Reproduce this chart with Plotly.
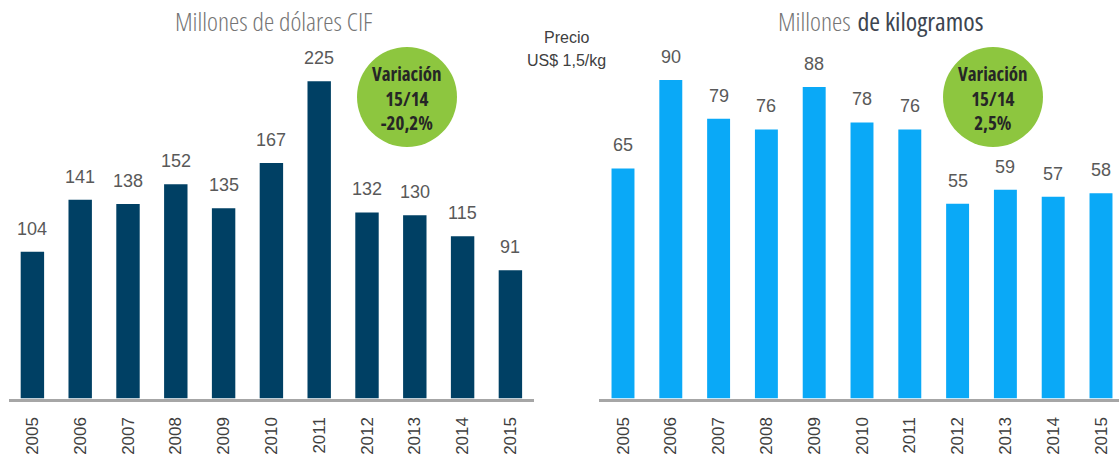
import plotly.graph_objects as go

W, H = 1119, 461

years = ['2005', '2006', '2007', '2008', '2009', '2010', '2011', '2012', '2013', '2014', '2015']
usd_cif = [104, 141, 138, 152, 135, 167, 225, 132, 130, 115, 91]
kg_mill = [65, 90, 79, 76, 88, 78, 76, 55, 59, 57, 58]

title_left = 'Millones de dólares CIF'
title_right_light = 'Millones'
title_right_bold = 'de kilogramos'
price_lines = ['Precio', 'US$ 1,5/kg']
var_left = ['Variación', '15/14', '-20,2%']
var_right = ['Variación', '15/14', '2,5%']

NAVY = '#004064'
BLUE = '#0AA9F7'
GREEN = '#8DC63F'
LABEL = '#595959'
COND = 'Open Sans, Liberation Sans, sans-serif'
SANS = 'Liberation Sans, Arial, sans-serif'


def px(x):
    return x / W


def py(y):
    return 1 - y / H


def cond(t, extra=''):
    return f"<span style='font-stretch:condensed;{extra}'>{t}</span>"


axis_y = 398.5
plot_top = 30.0
plot_h = axis_y - plot_top
left_scale = 1.41   # px per unit
right_scale = 3.54
step = 47.8

fig = go.Figure()
fig.add_trace(go.Bar(x=years, y=usd_cif, marker=dict(color=NAVY, line=dict(width=0)),
                     width=0.49, xaxis='x', yaxis='y', hoverinfo='skip'))
fig.add_trace(go.Bar(x=years, y=kg_mill, marker=dict(color=BLUE, line=dict(width=0)),
                     width=0.48, xaxis='x2', yaxis='y2', hoverinfo='skip'))

annotations = []
for i, v in enumerate(usd_cif):
    annotations.append(dict(x=i, y=v, xref='x', yref='y', text=str(v), showarrow=False,
                            yshift=23, yanchor='middle', xanchor='center',
                            font=dict(family=SANS, size=18, color=LABEL)))
for i, v in enumerate(kg_mill):
    annotations.append(dict(x=i, y=v, xref='x2', yref='y2', text=str(v), showarrow=False,
                            yshift=23, yanchor='middle', xanchor='center',
                            font=dict(family=SANS, size=18, color=LABEL)))

annotations.append(dict(x=px(274), y=py(21), xref='paper', yref='paper',
                        text=cond(title_left),
                        showarrow=False, xanchor='center', yanchor='middle',
                        font=dict(family=COND, size=26, color='#757575', weight=300)))
annotations.append(dict(x=px(880), y=py(21), xref='paper', yref='paper',
                        text=cond(title_right_light, 'color:#757575') + ' '
                             + cond(title_right_bold, 'color:#3d4550;font-weight:500'),
                        showarrow=False, xanchor='center', yanchor='middle',
                        font=dict(family=COND, size=26, color='#404040', weight=300)))
annotations.append(dict(x=px(566), y=py(37), xref='paper', yref='paper', text=price_lines[0],
                        showarrow=False, xanchor='center', yanchor='middle',
                        font=dict(family=SANS, size=16, color='#404040')))
annotations.append(dict(x=px(566), y=py(60), xref='paper', yref='paper', text=price_lines[1],
                        showarrow=False, xanchor='center', yanchor='middle',
                        font=dict(family=SANS, size=16, color='#404040')))

shapes = []
for cx, lines in ((407, var_left), (993, var_right)):
    cy, r = 97, 50
    shapes.append(dict(type='circle', xref='paper', yref='paper',
                       x0=px(cx - r), x1=px(cx + r), y0=py(cy + r), y1=py(cy - r),
                       fillcolor=GREEN, line=dict(width=0), layer='below'))
    annotations.append(dict(x=px(cx), y=py(98), xref='paper', yref='paper',
                            text='<br>'.join(cond(t) for t in lines),
                            showarrow=False, xanchor='center', yanchor='middle', align='center',
                            font=dict(family=COND, size=19, color='#262626', weight=700)))

left_x0 = 32.4 - step / 2
left_x1 = left_x0 + step * 11
right_x0 = 623.0 - step / 2
right_max = -0.5 + (W - right_x0) / step

xcommon = dict(showgrid=False, zeroline=False, showline=True, linecolor='#A6A6A6', linewidth=2.5,
               ticks='', tickangle=-90, tickfont=dict(family=SANS, size=17, color='#404040'),
               ticklabelstandoff=9, type='category', fixedrange=True)
ycommon = dict(visible=True, showgrid=False, zeroline=False, showline=False, showticklabels=False,
               ticks='', fixedrange=True, domain=[py(axis_y), py(plot_top)])

fig.update_layout(
    width=W, height=H, margin=dict(l=0, r=0, t=0, b=0),
    paper_bgcolor='white', plot_bgcolor='rgba(0,0,0,0)',
    showlegend=False, bargap=0.5,
    xaxis=dict(**xcommon, domain=[px(left_x0), px(left_x1)], range=[-0.5, 10.5], anchor='y'),
    yaxis=dict(**ycommon, range=[0, plot_h / left_scale], anchor='x'),
    xaxis2=dict(**xcommon, domain=[px(right_x0), 1.0], range=[-0.5, right_max], anchor='y2'),
    yaxis2=dict(**ycommon, range=[0, plot_h / right_scale], anchor='x2'),
    annotations=annotations, shapes=shapes,
)

fig.write_html('out.html', config={'displayModeBar': False},
               post_script="document.body.style.margin='0';document.body.style.overflow='hidden';")
